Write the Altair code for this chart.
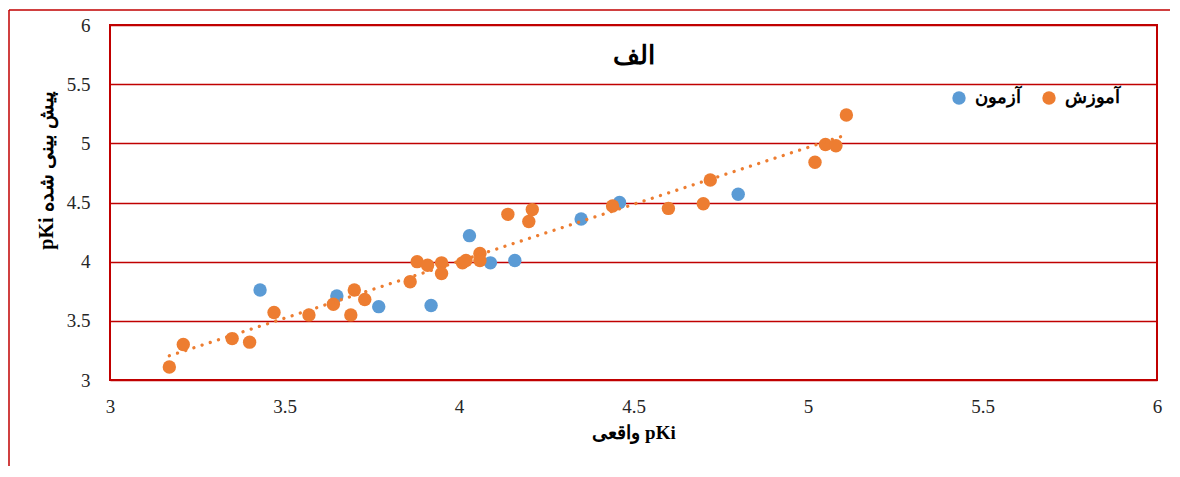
import altair as alt
import pandas as pd

# Training set (آموزش)
train_x = [3.17, 3.21, 3.35, 3.40, 3.47, 3.57, 3.64, 3.69, 3.70, 3.73,
           3.86, 3.88, 3.91, 3.95, 3.95, 4.01, 4.02, 4.06, 4.06, 4.14,
           4.20, 4.21, 4.44, 4.60, 4.70, 4.72, 5.02, 5.05, 5.08, 5.11]
train_y = [3.11, 3.30, 3.35, 3.32, 3.57, 3.55, 3.64, 3.55, 3.76, 3.68,
           3.83, 4.00, 3.97, 3.99, 3.90, 3.99, 4.01, 4.07, 4.01, 4.40,
           4.34, 4.44, 4.47, 4.45, 4.49, 4.69, 4.84, 4.99, 4.98, 5.24]
# Test set (آزمون)
test_x = [3.43, 3.65, 3.77, 3.92, 4.03, 4.09, 4.16, 4.35, 4.46, 4.80]
test_y = [3.76, 3.71, 3.62, 3.63, 4.22, 3.99, 4.01, 4.36, 4.50, 4.57]

series = ["آزمون", "آموزش"]
colors = ["#5B9BD5", "#ED7D31"]
ticks = [3, 3.5, 4, 4.5, 5, 5.5, 6]

title_text = "الف"
x_title = "واقعی pKi"
y_title = "pKi پیش بینی شده"

df = pd.DataFrame({
    "x": test_x + train_x,
    "y": test_y + train_y,
    "set": [series[0]] * len(test_x) + [series[1]] * len(train_x),
})

W, H = 1047, 355
RED = "#C00000"

xs = alt.Scale(domain=[3, 6], nice=False, zero=False)
ys = alt.Scale(domain=[3, 6], nice=False, zero=False)

x_axis = alt.Axis(values=ticks, format="~g", grid=False, ticks=False, domain=False,
                  labelFlush=False,
                  labelFont="Liberation Serif", labelFontSize=19, labelColor="#262626",
                  labelPadding=17, title=x_title, titleFont="Liberation Serif",
                  titleFontSize=19, titleFontWeight="bold", titleColor="#000000",
                  titleY=58, titleBaseline="alphabetic")
y_axis = alt.Axis(values=ticks, format="~g", grid=True, gridColor=RED, gridWidth=1.5,
                  ticks=False, domain=False, labelFlush=False,
                  labelFont="Liberation Serif", labelFontSize=19, labelColor="#262626",
                  labelPadding=20, title=y_title, titleFont="Liberation Serif",
                  titleFontSize=20, titleFontWeight="bold", titleColor="#000000",
                  titleX=-54, titleY=145, titleBaseline="bottom", titleAlign="center")

base = alt.Chart(df)

points = base.mark_circle(size=180, opacity=1).encode(
    x=alt.X("x:Q", scale=xs, axis=x_axis),
    y=alt.Y("y:Q", scale=ys, axis=y_axis),
    color=alt.Color("set:N", scale=alt.Scale(domain=series, range=colors),
                    sort=series,
                    legend=alt.Legend(orient="none", legendX=840, legendY=64,
                                      direction="horizontal", title=None,
                                      labelFont="Liberation Serif", labelFontSize=18,
                                      labelFontWeight="bold", labelColor="#000000",
                                      symbolType="circle", symbolSize=180,
                                      symbolStrokeWidth=0, symbolOpacity=1,
                                      labelOffset=7, columnPadding=19, padding=0)),
    order=alt.Order("set:N", sort="ascending"),
)

trend = base.transform_filter(
    alt.datum.set == series[1]
).transform_regression("x", "y").mark_line(
    color="#ED7D31", strokeWidth=3.3, strokeDash=[0.01, 8.6], strokeCap="round"
).encode(x=alt.X("x:Q", scale=xs), y=alt.Y("y:Q", scale=ys))

title_mark = alt.Chart(alt.Data(values=[{}])).mark_text(
    font="Liberation Serif", fontSize=26, fontWeight="bold", color="#000000",
    baseline="middle", align="center"
).encode(x=alt.value(W / 2), y=alt.value(31), text=alt.value(title_text))

frame_left = alt.Chart(alt.Data(values=[{}])).mark_rule(color=RED, strokeWidth=1.5).encode(
    x=alt.value(-101), y=alt.value(-15), y2=alt.value(480))
frame_top = alt.Chart(alt.Data(values=[{}])).mark_rule(color=RED, strokeWidth=1.5).encode(
    x=alt.value(-101), x2=alt.value(1200), y=alt.value(-15))

chart = alt.layer(frame_left, frame_top, points, trend, title_mark).properties(
    width=W, height=H,
    background="white",
    autosize=alt.AutoSizeParams(type="none"),
    padding={"left": 102, "top": 17, "right": 13, "bottom": 86},
).configure_view(stroke=RED, strokeWidth=2)

chart.save("out.html", embed_options={"renderer": "svg", "actions": False})
